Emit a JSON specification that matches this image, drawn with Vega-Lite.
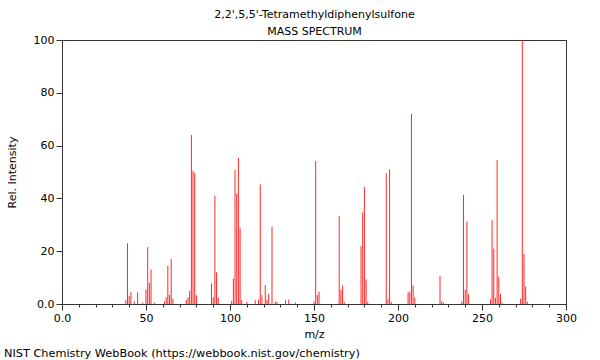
{
  "$schema": "https://vega.github.io/schema/vega-lite/v6.json",
  "width": 504,
  "height": 264,
  "autosize": {"type": "none"},
  "padding": {"left": 62, "top": 40, "right": 34, "bottom": 56},
  "background": "white",
  "config": {
    "view": {"stroke": "#333", "strokeWidth": 1},
    "font": "DejaVu Sans",
    "axis": {"grid": false, "labelFont": "DejaVu Sans", "titleFont": "DejaVu Sans", "labelFontSize": 11, "titleFontSize": 11, "titleFontWeight": "normal", "labelColor": "#000", "titleColor": "#000", "domainColor": "#333", "tickColor": "#333"}
  },
  "title": {
    "text": "NIST Chemistry WebBook (https://webbook.nist.gov/chemistry)",
    "orient": "bottom",
    "anchor": "start",
    "frame": "bounds",
    "fontSize": 11.3,
    "fontWeight": "normal",
    "font": "DejaVu Sans",
    "color": "#000",
    "offset": 9,
    "dx": -2
  },
  "data": {
    "values": [
      {"mz": 38, "intensity": 1.5}, {"mz": 39, "intensity": 23}, {"mz": 40, "intensity": 3}, {"mz": 41, "intensity": 4.5},
      {"mz": 43, "intensity": 1}, {"mz": 45, "intensity": 4.4}, {"mz": 48, "intensity": 0.5}, {"mz": 50, "intensity": 5.5},
      {"mz": 51, "intensity": 21.5}, {"mz": 52, "intensity": 8}, {"mz": 53, "intensity": 13}, {"mz": 55, "intensity": 0.5},
      {"mz": 61, "intensity": 1}, {"mz": 62, "intensity": 2.5}, {"mz": 63, "intensity": 14.5}, {"mz": 64, "intensity": 3.5},
      {"mz": 65, "intensity": 17}, {"mz": 66, "intensity": 2}, {"mz": 74, "intensity": 1.5}, {"mz": 75, "intensity": 2.5},
      {"mz": 76, "intensity": 5}, {"mz": 77, "intensity": 64}, {"mz": 78, "intensity": 50.5}, {"mz": 79, "intensity": 49.7},
      {"mz": 80, "intensity": 3.3}, {"mz": 89, "intensity": 7.8}, {"mz": 90, "intensity": 2.5}, {"mz": 91, "intensity": 41},
      {"mz": 92, "intensity": 12}, {"mz": 93, "intensity": 2.5}, {"mz": 101, "intensity": 1.2}, {"mz": 102, "intensity": 9.7},
      {"mz": 103, "intensity": 50.8}, {"mz": 104, "intensity": 41.7}, {"mz": 105, "intensity": 55.3}, {"mz": 106, "intensity": 28.7},
      {"mz": 107, "intensity": 1.5}, {"mz": 110, "intensity": 0.8}, {"mz": 115, "intensity": 1.5}, {"mz": 117, "intensity": 1.7},
      {"mz": 118, "intensity": 45.3}, {"mz": 119, "intensity": 3.4}, {"mz": 121, "intensity": 7.2}, {"mz": 122, "intensity": 1.5},
      {"mz": 123, "intensity": 3.8}, {"mz": 125, "intensity": 29.3}, {"mz": 127, "intensity": 0.8}, {"mz": 128, "intensity": 0.8},
      {"mz": 133, "intensity": 1.5}, {"mz": 135, "intensity": 1.7}, {"mz": 139, "intensity": 0.5}, {"mz": 150, "intensity": 1},
      {"mz": 151, "intensity": 54.2}, {"mz": 152, "intensity": 3.4}, {"mz": 153, "intensity": 4.7}, {"mz": 165, "intensity": 33.3},
      {"mz": 166, "intensity": 5.3}, {"mz": 167, "intensity": 7}, {"mz": 168, "intensity": 0.8}, {"mz": 178, "intensity": 22},
      {"mz": 179, "intensity": 34.7}, {"mz": 180, "intensity": 44.3}, {"mz": 181, "intensity": 9.3}, {"mz": 182, "intensity": 0.8},
      {"mz": 193, "intensity": 49.5}, {"mz": 194, "intensity": 1.7}, {"mz": 195, "intensity": 51}, {"mz": 196, "intensity": 0.8},
      {"mz": 206, "intensity": 4.4}, {"mz": 207, "intensity": 4.7}, {"mz": 208, "intensity": 72}, {"mz": 209, "intensity": 7},
      {"mz": 210, "intensity": 2.5}, {"mz": 225, "intensity": 10.6}, {"mz": 226, "intensity": 1}, {"mz": 227, "intensity": 0.6},
      {"mz": 238, "intensity": 1}, {"mz": 239, "intensity": 41.3}, {"mz": 240, "intensity": 5.3}, {"mz": 241, "intensity": 31.2},
      {"mz": 242, "intensity": 3.7}, {"mz": 255, "intensity": 1.8}, {"mz": 256, "intensity": 31.7}, {"mz": 257, "intensity": 21},
      {"mz": 258, "intensity": 2.3}, {"mz": 259, "intensity": 54.5}, {"mz": 260, "intensity": 10.4}, {"mz": 261, "intensity": 3.7},
      {"mz": 262, "intensity": 0.5}, {"mz": 273, "intensity": 2}, {"mz": 274, "intensity": 100}, {"mz": 275, "intensity": 19},
      {"mz": 276, "intensity": 6.6}, {"mz": 277, "intensity": 0.8}
    ]
  },
  "resolve": {"axis": {"x": "independent"}},
  "layer": [
    {
      "mark": {"type": "rule", "color": "#ff0000", "strokeWidth": 1, "opacity": 0.85},
      "encoding": {
        "x": {
          "field": "mz", "type": "quantitative",
          "scale": {"domain": [0, 300], "nice": false, "zero": false},
          "axis": {
            "orient": "bottom",
            "title": "m/z",
            "values": [0,10,20,30,40,50,60,70,80,90,100,110,120,130,140,150,160,170,180,190,200,210,220,230,240,250,260,270,280,290,300],
            "labelExpr": "datum.value % 50 == 0 ? (datum.value == 0 ? '0.0' : datum.label) : ''",
            "tickSize": {"condition": {"test": "datum.value % 50 == 0", "value": 6}, "value": 3},
            "labelOverlap": false,
            "labelFlush": false,
            "labelBound": false,
            "labelPadding": 2,
            "titlePadding": 5
          }
        },
        "y": {
          "field": "intensity", "type": "quantitative",
          "scale": {"domain": [0, 100], "nice": false},
          "axis": {
            "title": "Rel. Intensity",
            "values": [0,5,10,15,20,25,30,35,40,45,50,55,60,65,70,75,80,85,90,95,100],
            "labelExpr": "datum.value % 20 == 0 ? (datum.value == 0 ? '0.0' : datum.label) : ''",
            "tickSize": {"condition": {"test": "datum.value % 20 == 0", "value": 6}, "value": 3},
            "labelOverlap": false,
            "labelFlush": false,
            "labelBound": false,
            "labelPadding": 2,
            "titlePadding": 16
          }
        },
        "y2": {"datum": 0}
      }
    },
    {
      "mark": {"type": "rule", "opacity": 0},
      "encoding": {
        "x": {
          "field": "mz", "type": "quantitative",
          "axis": {
            "orient": "top",
            "domain": false, "ticks": false, "labels": false,
            "title": ["2,2',5,5'-Tetramethyldiphenylsulfone", "MASS SPECTRUM"],
            "titleLineHeight": 17,
            "titlePadding": 4
          }
        },
        "y": {"field": "intensity", "type": "quantitative"}
      }
    }
  ]
}
